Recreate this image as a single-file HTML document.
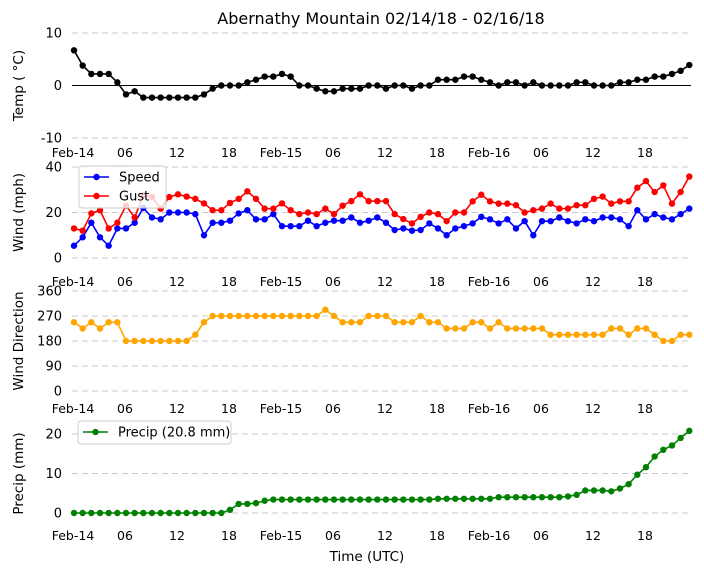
<!DOCTYPE html>
<html><head><meta charset="utf-8"><style>
body{margin:0;background:#fff;}
svg{display:block;font-family:"DejaVu Sans","Liberation Sans",sans-serif;}
</style></head><body>
<svg id="chart" width="704" height="573"></svg>
<script>
const hours = Array.from({length:72},(_,i)=>i);
const tickLabels = ["Feb-14","06","12","18","Feb-15","06","12","18","Feb-16","06","12","18"];
const temp = [6.7,3.8,2.2,2.2,2.2,0.6,-1.7,-1.1,-2.3,-2.3,-2.3,-2.3,-2.3,-2.3,-2.3,-1.7,-0.6,0,0,0,0.6,1.1,1.7,1.7,2.2,1.7,0,0,-0.6,-1.1,-1.1,-0.6,-0.6,-0.6,0,0,-0.6,0,0,-0.6,0,0,1.1,1.1,1.1,1.7,1.7,1.1,0.6,0,0.6,0.6,0,0.6,0,0,0,0,0.6,0.6,0,0,0,0.6,0.6,1.1,1.1,1.7,1.7,2.2,2.8,3.9];
const speed = [5.4,9.1,15.5,9.1,5.4,13,13,15.5,22,17.8,17,20,20,20,19.3,10,15.5,15.5,16.4,19.6,21,17,17,19.3,14,14,14,16.4,14,15.5,16.4,16.4,17.8,15.5,16.4,17.8,15.5,12.3,13,12,12.3,15.2,13,10,13,14,15.2,18.1,17,15.2,17,13,16.2,10,16.2,16.2,17.8,16.2,15.2,17,16.2,17.8,17.8,17,14,21,17,19.3,17.8,17,19.3,21.7];
const gust = [13,12,19.6,21,13,15.5,23,17.8,27.5,26.8,21.7,26.8,28,27,26,24,21,21,24.2,26,29.3,26,21.7,21.7,24,21,19.3,20,19.3,21.7,19.3,23,25,28,25,25,25,19.3,17.1,15.2,18.1,20,19.3,16.2,20,20,24.9,27.8,24.9,23.9,23.9,23.2,20,21,21.7,23.9,21.7,21.7,23.2,23.2,26,27,23.9,24.9,24.9,30.9,33.8,29,31.9,23.9,29,35.8];
const direction = [247.5,225,247.5,225,247.5,247.5,180,180,180,180,180,180,180,180,202.5,247.5,270,270,270,270,270,270,270,270,270,270,270,270,270,292.5,270,247.5,247.5,247.5,270,270,270,247.5,247.5,247.5,270,247.5,247.5,225,225,225,247.5,247.5,225,247.5,225,225,225,225,225,202.5,202.5,202.5,202.5,202.5,202.5,202.5,225,225,202.5,225,225,202.5,180,180,202.5,202.5];
const precip = [0,0,0,0,0,0,0,0,0,0,0,0,0,0,0,0,0,0,0.8,2.3,2.3,2.5,3.1,3.4,3.4,3.4,3.4,3.4,3.4,3.4,3.4,3.4,3.4,3.4,3.4,3.4,3.4,3.4,3.4,3.4,3.4,3.4,3.6,3.6,3.6,3.6,3.6,3.6,3.6,4.0,4.0,4.0,4.0,4.0,4.0,4.0,4.0,4.2,4.6,5.7,5.7,5.7,5.5,6.2,7.3,9.7,11.6,14.3,16,17.1,19,20.8];

const NS="http://www.w3.org/2000/svg";
const svg=document.getElementById('chart');
function mk(tag,attrs,parent){const e=document.createElementNS(NS,tag);for(const k in attrs)e.setAttribute(k,attrs[k]);(parent||svg).appendChild(e);return e;}
const X0=74, X1=689.3;
const xs = i => X0 + (i/71)*(X1-X0);
function yScale(v0,y0,v1,y1){return v=>y0+(v-v0)*(y1-y0)/(v1-v0);}

const panels=[
 {name:'temp',ys:yScale(-10,138,10,33),ticks:[10,0,-10],label:'Temp ( °C)',xlabY:157,grid:[10,-10]},
 {name:'wind',ys:yScale(0,258,40,167),ticks:[40,20,0],label:'Wind (mph)',xlabY:286,grid:[40,20,0]},
 {name:'direction',ys:yScale(0,391,360,291),ticks:[360,270,180,90,0],label:'Wind Direction',xlabY:413,grid:[360,270,180,90,0]},
 {name:'precip',ys:yScale(0,513,20,434),ticks:[20,10,0],label:'Precip (mm)',xlabY:540,grid:[20,10,0]}
];

let t=mk('text',{x:381,y:24,'text-anchor':'middle','font-size':16});
t.textContent='Abernathy Mountain 02/14/18 - 02/16/18';



panels.forEach(p=>{
  const g=mk('g',{});
  
  
  p.grid.forEach(v=>{
    const l=mk('line',{x1:72,x2:691,y1:p.ys(v),y2:p.ys(v),stroke:'#c8c8c8','stroke-dasharray':'6,4','stroke-width':1},g);
    
    
  });
  p.ticks.forEach(v=>{
    const tt=mk('text',{x:62,y:p.ys(v)+4.5,'text-anchor':'end','font-size':13},g);
    tt.textContent=v;
    
    
  });
  tickLabels.forEach((s,k)=>{
    const tt=mk('text',{x:xs(k*6)-1,y:p.xlabY,'text-anchor':'middle','font-size':12.5},g);
    tt.textContent=s;
    
    
  });
  const cy=(p.ys(p.ticks[0])+p.ys(p.ticks[p.ticks.length-1]))/2;
  const yl=mk('text',{x:0,y:0,transform:`translate(23,${cy}) rotate(-90)`,'text-anchor':'middle','font-size':13.5},g);
  yl.textContent=p.label;
  
  
  p.g=g;
});

function series(data,ys,color,name,parent){
  const g=mk('g',{},parent);
  
  
  mk('polyline',{points:data.map((v,i)=>xs(i)+','+ys(v)).join(' '),fill:'none',stroke:color,'stroke-width':1.6},g);
  data.forEach((v,i)=>{
    const c=mk('circle',{cx:xs(i),cy:ys(v),r:3.2,fill:color},g);
    
    
  });
}
// zero line temp
const zl=mk('line',{x1:72,x2:691,y1:panels[0].ys(0),y2:panels[0].ys(0),stroke:'#000','stroke-width':0.9},panels[0].g);


series(temp,panels[0].ys,'#000','temperature',panels[0].g);
series(speed,panels[1].ys,'#0000ff','speed',panels[1].g);
series(gust,panels[1].ys,'#ff0000','gust',panels[1].g);
series(direction,panels[2].ys,'#ffa500','direction',panels[2].g);
series(precip,panels[3].ys,'#008000','precip',panels[3].g);

function legend(x,y,w,h,entries,name){
  const g=mk('g',{});
  
  
  mk('rect',{x:x,y:y,width:w,height:h,rx:3,fill:'rgba(255,255,255,0.8)',stroke:'#ccc'},g);
  entries.forEach((e,k)=>{
    const ly=y+11+k*19;
    const eg=mk('g',{},g);
    
    
    mk('line',{x1:x+5,x2:x+30,y1:ly,y2:ly,stroke:e.c,'stroke-width':1.6},eg);
    mk('circle',{cx:x+17.5,cy:ly,r:3.2,fill:e.c},eg);
    const tt=mk('text',{x:x+40,y:ly+4.5,'font-size':13},eg);
    tt.textContent=e.t;
  });
}
legend(79,166,87,42,[{c:'#0000ff',t:'Speed'},{c:'#ff0000',t:'Gust'}],'wind-legend');
legend(78,421,153,23,[{c:'#008000',t:'Precip (20.8 mm)'}],'precip-legend');

const xl=mk('text',{x:367,y:561,'text-anchor':'middle','font-size':13.5});
xl.textContent='Time (UTC)';


</script>
</body></html>
